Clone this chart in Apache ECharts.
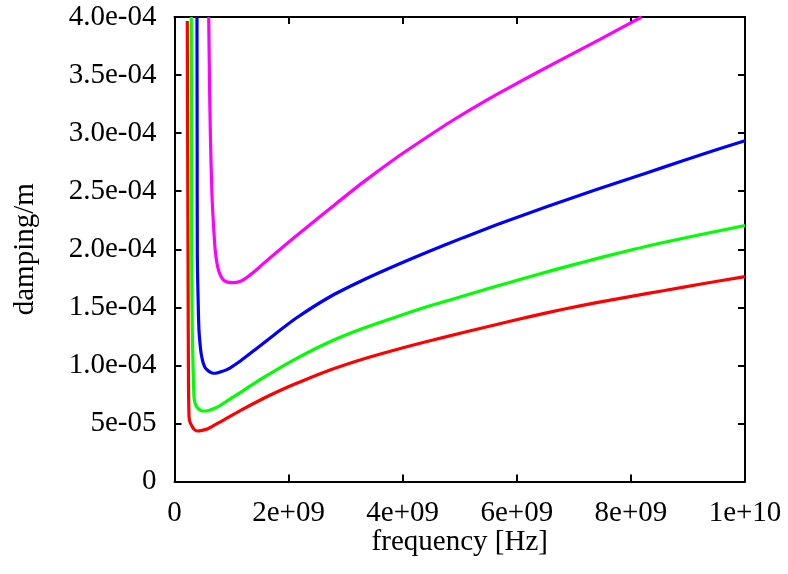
<!DOCTYPE html>
<html>
<head>
<meta charset="utf-8">
<script src="https://cdn.jsdelivr.net/npm/echarts@6/dist/echarts.min.js"></script>
<style>
  html, body { margin: 0; padding: 0; background: #fff; }
  #chart { width: 788px; height: 574px; }
</style>
</head>
<body>
<div id="chart"></div>
<script>
// Tick labels, written the way gnuplot prints them
const xTickLabels = ['0', '2e+09', '4e+09', '6e+09', '8e+09', '1e+10'];
const yTickLabels = ['0', '5e-05', '1.0e-04', '1.5e-04', '2.0e-04', '2.5e-04', '3.0e-04', '3.5e-04', '4.0e-04'];

// Frequencies in GHz, damping in units of 1e-4 per metre
const redGHz  = [0.224, 0.230, 0.237, 0.241, 0.246, 0.254, 0.262, 0.280, 0.312, 0.350, 0.400, 0.480, 0.575, 0.700, 0.868, 0.973, 1.160, 1.557, 1.850, 2.142, 2.726, 3.309, 3.895, 4.478, 5.062, 5.646, 6.230, 6.814, 7.398, 7.982, 8.566, 9.283, 10.0];
const redDamp = [3.966, 2.950, 1.950, 1.305, 0.800, 0.565, 0.530, 0.502, 0.472, 0.447, 0.435, 0.440, 0.452, 0.485, 0.530, 0.560, 0.613, 0.715, 0.784, 0.846, 0.960, 1.055, 1.137, 1.212, 1.283, 1.352, 1.420, 1.483, 1.540, 1.592, 1.643, 1.705, 1.764];

const greenGHz  = [0.294, 0.298, 0.301, 0.312, 0.330, 0.342, 0.354, 0.377, 0.400, 0.459, 0.517, 0.600, 0.750, 0.973, 1.160, 1.557, 2.142, 2.726, 3.309, 3.895, 4.478, 4.887, 5.472, 6.056, 6.640, 7.225, 7.809, 8.568, 10.0];
const greenDamp = [4.000, 2.900, 1.950, 1.305, 0.900, 0.730, 0.688, 0.654, 0.637, 0.613, 0.607, 0.612, 0.640, 0.710, 0.768, 0.895, 1.061, 1.204, 1.319, 1.419, 1.513, 1.572, 1.657, 1.740, 1.820, 1.897, 1.970, 2.058, 2.205];

const blueGHz  = [0.394, 0.397, 0.400, 0.415, 0.429, 0.459, 0.482, 0.505, 0.535, 0.575, 0.622, 0.680, 0.760, 0.926, 1.160, 1.451, 1.744, 2.142, 2.726, 3.309, 3.895, 4.478, 5.062, 5.646, 6.230, 6.814, 7.398, 7.982, 8.566, 9.283, 10.0];
const blueDamp = [4.000, 2.950, 1.950, 1.550, 1.305, 1.132, 1.063, 1.018, 0.982, 0.960, 0.943, 0.932, 0.937, 0.965, 1.040, 1.150, 1.262, 1.410, 1.591, 1.735, 1.864, 1.985, 2.100, 2.210, 2.315, 2.416, 2.514, 2.609, 2.705, 2.822, 2.935];

const magentaGHz  = [0.600, 0.612, 0.629, 0.657, 0.689, 0.719, 0.771, 0.859, 1.013, 1.148, 1.271, 1.411, 1.557, 1.849, 2.142, 2.726, 3.309, 3.895, 4.303, 4.887, 5.472, 6.056, 6.640, 7.458, 8.189];
const magentaDamp = [4.000, 3.500, 2.984, 2.467, 2.166, 1.968, 1.821, 1.735, 1.712, 1.722, 1.758, 1.812, 1.876, 1.998, 2.118, 2.351, 2.578, 2.790, 2.926, 3.113, 3.285, 3.443, 3.596, 3.808, 4.000];

function toPairs(ghz, damp) {
  return ghz.map((f, i) => [f * 1e9, damp[i] * 1e-4]);
}

const FONT = '"Liberation Serif", "DejaVu Serif", serif';
const FONT_SIZE = 29;
const AXIS_LINE = { show: true, onZero: false, lineStyle: { color: '#000', width: 2 } };
const TICK = { show: true, inside: true, length: 7, lineStyle: { color: '#000', width: 2 } };

function curve(name, color, ghz, damp) {
  return {
    name: name,
    type: 'line',
    data: toPairs(ghz, damp),
    showSymbol: false,
    smooth: 0.3,
    lineStyle: { color: color, width: 3.2 },
    itemStyle: { color: color },
    clip: true,
    z: 3
  };
}

const chart = echarts.init(document.getElementById('chart'), null, { renderer: 'canvas' });
chart.setOption({
  animation: false,
  backgroundColor: '#fff',
  grid: { left: 174.5, right: 43, top: 17, bottom: 92.5, containLabel: false },
  xAxis: [
    {
      type: 'value', min: 0, max: 1e10, interval: 2e9, position: 'bottom',
      name: 'frequency [Hz]', nameLocation: 'middle', nameGap: 46, nameMoveOverlap: false,
      nameTextStyle: { fontFamily: FONT, fontSize: FONT_SIZE, color: '#000' },
      axisLine: AXIS_LINE, axisTick: TICK, splitLine: { show: false },
      axisLabel: {
        fontFamily: FONT, fontSize: FONT_SIZE, color: '#000', margin: 17,
        formatter: v => xTickLabels[Math.round(v / 2e9)]
      }
    },
    {
      type: 'value', min: 0, max: 1e10, interval: 2e9, position: 'top',
      axisLine: AXIS_LINE, axisTick: TICK, splitLine: { show: false },
      axisLabel: { show: false }
    }
  ],
  yAxis: [
    {
      type: 'value', min: 0, max: 4e-4, interval: 5e-5, position: 'left',
      name: 'damping/m', nameLocation: 'middle', nameGap: 135, nameRotate: 90, nameMoveOverlap: false,
      nameTextStyle: { fontFamily: FONT, fontSize: FONT_SIZE, color: '#000' },
      axisLine: AXIS_LINE, axisTick: TICK, splitLine: { show: false },
      axisLabel: {
        fontFamily: FONT, fontSize: FONT_SIZE, color: '#000', margin: 18,
        formatter: v => yTickLabels[Math.round(v / 5e-5)]
      }
    },
    {
      type: 'value', min: 0, max: 4e-4, interval: 5e-5, position: 'right',
      axisLine: AXIS_LINE, axisTick: TICK, splitLine: { show: false },
      axisLabel: { show: false }
    }
  ],
  series: [
    curve('red', '#ff0000', redGHz, redDamp),
    curve('green', '#00ff00', greenGHz, greenDamp),
    curve('blue', '#0000ff', blueGHz, blueDamp),
    curve('magenta', '#ff00ff', magentaGHz, magentaDamp)
  ]
});
</script>
</body>
</html>
